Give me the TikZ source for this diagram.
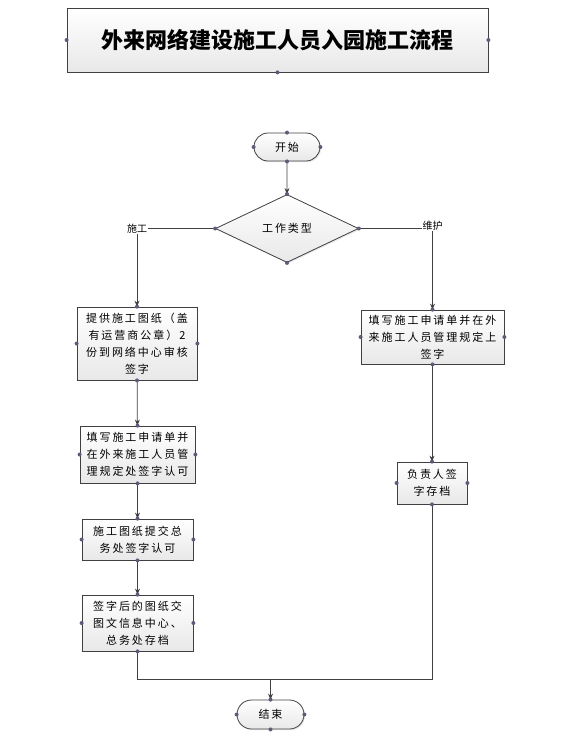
\documentclass[tikz,border=0pt]{standalone}
\usepackage{fontspec}
\newfontfamily\cjk[LetterSpace=18]{Noto Sans CJK SC}
\newfontfamily\cjktitle{Noto Sans CJK SC}
\usetikzlibrary{shapes.geometric,shapes.misc,shadows,arrows.meta}
\definecolor{ln}{HTML}{404040}
\definecolor{dotc}{HTML}{5C5C78}
\tikzset{
  box/.style={draw=ln, line width=0.8pt, top color=white, bottom color=black!9,
    drop shadow={opacity=0.18, shadow xshift=1.2pt, shadow yshift=-1.2pt},
    inner sep=2pt, align=center, font=\cjk\fontsize{11}{17}\selectfont},
  term/.style={box, rounded rectangle},
  dec/.style={box, diamond},
  conn/.style={draw=ln, line width=0.8pt},
  arr/.style={conn, -{Stealth[length=6pt,width=5pt]}},
  lab/.style={fill=white, inner sep=1pt, font=\cjktitle\fontsize{10}{12}\selectfont}
}
\newcommand{\pins}[2]{\foreach \a in {#2} {\fill[dotc] (#1.\a) circle[radius=2pt];}}
\begin{document}
\begin{tikzpicture}[x=1pt,y=-1pt]
\useasboundingbox (0,0) rectangle (570,748);
\node[box, minimum width=421pt, minimum height=64pt, font=\cjktitle\bfseries\fontsize{22}{26}\selectfont] (title) at (277.5,40) {外来网络建设施工人员入园施工流程};
\node[term, minimum width=70pt, minimum height=28pt] (start) at (287,147) {开始};
\node[dec, minimum width=143pt, minimum height=51pt] (type) at (287,228.5) {工作类型};
\node[box, minimum width=120pt, minimum height=73pt] (b1) at (137,343.5) {提供施工图纸（盖\\有运营商公章）2\\份到网络中心审核\\签字};
\node[box, minimum width=115pt, minimum height=57pt] (b2) at (137.5,454.5) {填写施工申请单并\\在外来施工人员管\\理规定处签字认可};
\node[box, minimum width=111pt, minimum height=41pt] (b3) at (137.5,539.5) {施工图纸提交总\\务处签字认可};
\node[box, minimum width=111pt, minimum height=56pt] (b4) at (137.5,623) {签字后的图纸交\\图文信息中心、\\总务处存档};
\node[box, minimum width=143pt, minimum height=54pt] (r1) at (432.5,337) {填写施工申请单并在外\\来施工人员管理规定上\\签字};
\node[box, minimum width=70pt, minimum height=42pt] (r2) at (432,483) {负责人签\\字存档};
\node[term, minimum width=71pt, minimum height=29pt] (end) at (270.5,714.5) {结束};
\coordinate (lc) at (137,228.5);
\coordinate (rc) at (432.5,228.5);
\coordinate (jl) at (137.5,679);
\coordinate (jr) at (432,679);
\coordinate (jm) at (270.5,679);
\draw[arr] (start) -- (type);
\draw[arr] (type.west) -- (lc) -- (b1.north);
\draw[arr] (type.east) -- (rc) -- (r1.north);
\node[lab] (lt) at (lc) {施工};
\node[lab] (rt) at ([yshift=3pt]rc) {维护};
\draw[arr] (b1) -- (b2);
\draw[arr] (b2) -- (b3);
\draw[arr] (b3) -- (b4);
\draw[arr] (r1.south -| r2.north) -- (r2.north);
\draw[conn] (b4.south) -- (jl) -- (jr) -- (r2.south);
\draw[arr] (jm) -- (end.north);
\pins{title}{west,east,south}
\pins{start}{north,south,east,west}
\pins{type}{north,south,east,west}
\pins{b1}{north,south,east,west}
\pins{b2}{north,south,east,west}
\pins{b3}{north,south,east,west}
\pins{b4}{north,south,east,west}
\pins{r1}{north,south,east,west}
\pins{r2}{north,south,east,west}
\pins{end}{north,south,east,west}
\end{tikzpicture}
\end{document}
